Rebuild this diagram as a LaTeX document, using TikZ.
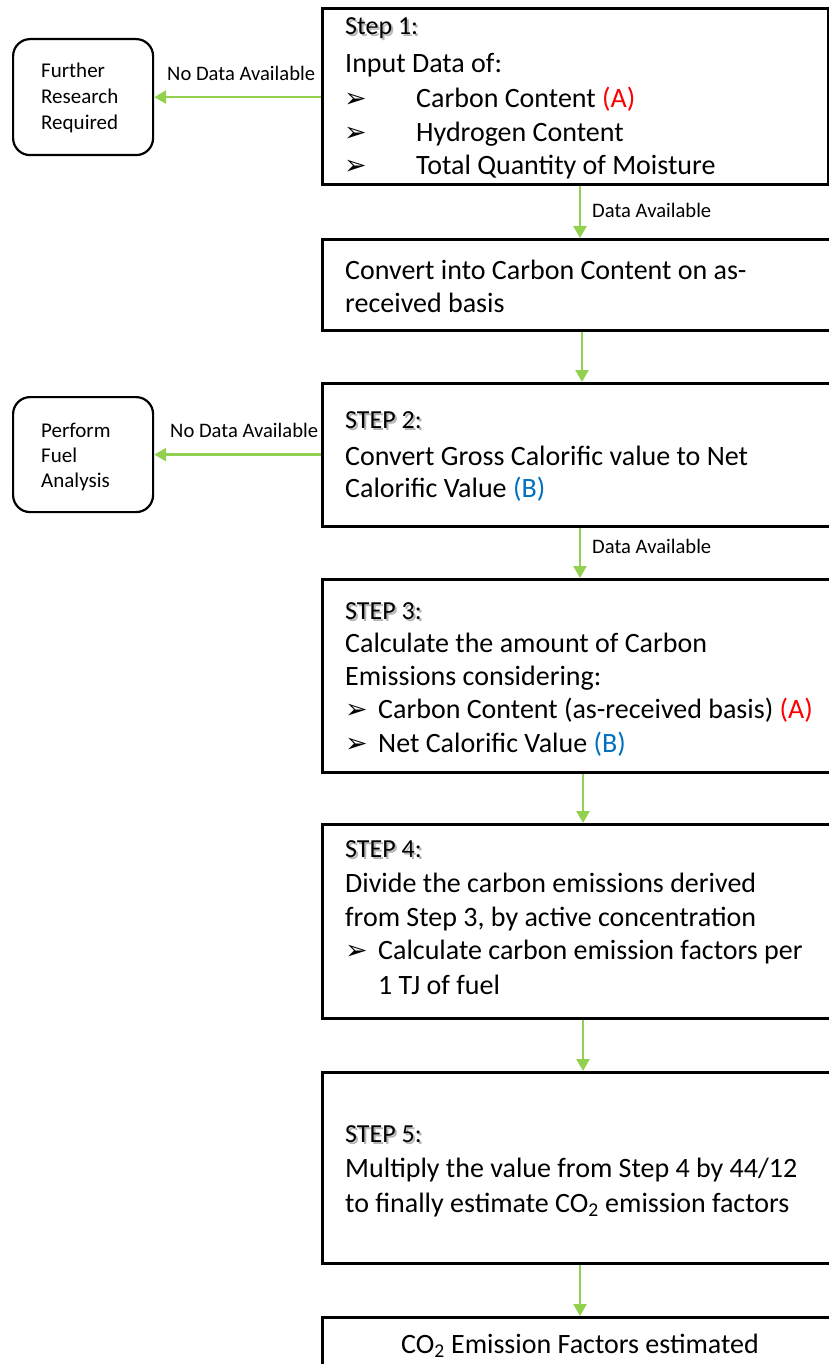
\documentclass[tikz,border=0pt]{standalone}
\usepackage{fontspec}
\setmainfont{Carlito}
\newfontfamily\symfont{DejaVu Sans}
\usetikzlibrary{arrows.meta}
\definecolor{arrowgreen}{HTML}{92D050}
\definecolor{refred}{HTML}{FF0000}
\definecolor{refblue}{HTML}{0070C0}
\definecolor{shadowgray}{HTML}{B4B4B4}
\begin{document}
\begin{tikzpicture}[x=1pt,y=-1pt,
  stepbox/.style={draw=black, line width=2.6pt, rectangle, inner sep=0pt, anchor=north west},
  sidebox/.style={draw=black, line width=2.2pt, rectangle, rounded corners=17pt, inner sep=0pt,
    anchor=north west, minimum width=140pt},
  txt/.style={anchor=base west, inner sep=0pt, font=\fontsize{28}{33}\selectfont},
  ctxt/.style={anchor=base, inner sep=0pt, font=\fontsize{28}{33}\selectfont},
  bul/.style={anchor=base west, inner sep=0pt, font=\symfont\fontsize{27}{30}\selectfont},
  steptxt/.style={anchor=base west, inner sep=0pt, font=\fontsize{26}{30}\selectfont},
  stepshadow/.style={anchor=base west, inner sep=0pt, font=\fontsize{26}{30}\selectfont, text=shadowgray},
  sidetxt/.style={anchor=base west, inner sep=0pt, font=\fontsize{21}{25}\selectfont},
  lbl/.style={anchor=base west, inner sep=0pt, font=\fontsize{20.6}{24}\selectfont},
  flow/.style={draw=arrowgreen, line width=2.6pt, -{Triangle[width=13pt,length=12pt]}}
]
\useasboundingbox (0,0) rectangle (829,1364);
\clip (0,0) rectangle (829,1364);

% main boxes
\node[stepbox, minimum width=506pt, minimum height=176pt] (b1) at (321,7) {};
\node[stepbox, minimum width=530pt, minimum height=91pt] (b2) at (321,238) {};
\node[stepbox, minimum width=530pt, minimum height=143pt] (b3) at (321,382) {};
\node[stepbox, minimum width=530pt, minimum height=193pt] (b4) at (321,578) {};
\node[stepbox, minimum width=530pt, minimum height=194pt] (b5) at (321,823) {};
\node[stepbox, minimum width=530pt, minimum height=191pt] (b6) at (321,1071) {};
\node[stepbox, minimum width=530pt, minimum height=80pt] (b7) at (321,1316) {};

% side boxes
\node[sidebox, minimum height=116pt] (fr) at (12,38) {};
\node[sidebox, minimum height=115pt] (pf) at (12,396) {};

% side box texts
\node[sidetxt] (fr1) at (41,78) {Further};
\node[sidetxt] (fr2) at (41,104) {Research};
\node[sidetxt] (fr3) at (41,129.5) {Required};
\node[sidetxt] (pf1) at (41,437) {Perform};
\node[sidetxt] (pf2) at (41,462) {Fuel};
\node[sidetxt] (pf3) at (41,487) {Analysis};

% box 1
\node[stepshadow] (s1s) at (347,37) {Step 1:};
\node[steptxt] (s1) at (345,35) {Step 1:};
\node[txt] (t1a) at (345,73) {Input Data of:};
\node[bul] (u1a) at (344,108) {➢};
\node[txt] (t1b) at (416,108) {Carbon Content {\color{refred}(A)}};
\node[bul] (u1b) at (344,141.5) {➢};
\node[txt] (t1c) at (416,141.5) {Hydrogen Content};
\node[bul] (u1c) at (344,175) {➢};
\node[txt] (t1d) at (416,175) {Total Quantity of Moisture};

% box 2
\node[txt] (t2a) at (345,279) {Convert into Carbon Content on as-};
\node[txt] (t2b) at (345,312) {received basis};

% box 3
\node[stepshadow] (s2s) at (347,430) {STEP 2:};
\node[steptxt] (s2) at (345,428) {STEP 2:};
\node[txt] (t3a) at (345,465) {Convert Gross Calorific value to Net};
\node[txt] (t3b) at (345,497) {Calorific Value {\color{refblue}(B)}};

% box 4
\node[stepshadow] (s3s) at (347,621) {STEP 3:};
\node[steptxt] (s3) at (345,619) {STEP 3:};
\node[txt] (t4a) at (345,652) {Calculate the amount of Carbon};
\node[txt] (t4b) at (345,685) {Emissions considering:};
\node[bul] (u4a) at (345,718) {➢};
\node[txt] (t4c) at (378,718) {Carbon Content (as-received basis) {\color{refred}(A)}};
\node[bul] (u4b) at (345,752) {➢};
\node[txt] (t4d) at (378,752) {Net Calorific Value {\color{refblue}(B)}};

% box 5
\node[stepshadow] (s4s) at (347,859) {STEP 4:};
\node[steptxt] (s4) at (345,857) {STEP 4:};
\node[txt] (t5a) at (345,892) {Divide the carbon emissions derived};
\node[txt] (t5b) at (345,926) {from Step 3, by active concentration};
\node[bul] (u5a) at (345,959) {➢};
\node[txt] (t5c) at (378,959) {Calculate carbon emission factors per};
\node[txt] (t5d) at (378,994) {1 TJ of fuel};

% box 6
\node[stepshadow] (s5s) at (347,1144) {STEP 5:};
\node[steptxt] (s5) at (345,1142) {STEP 5:};
\node[txt] (t6a) at (345,1177) {Multiply the value from Step 4 by 44/12};
\node[txt] (t6b) at (345,1212) {to finally estimate CO\textsubscript{2} emission factors};

% box 7
\node[ctxt] (t7) at (580,1353) {CO\textsubscript{2} Emission Factors estimated};

% arrow columns
\coordinate (c1) at (580,0);
\coordinate (c2) at (582,0);
\coordinate (c3) at (583,0);

\draw[flow] (b1.south -| c1) -- (b2.north -| c1);
\draw[flow] (b2.south -| c2) -- (b3.north -| c2);
\draw[flow] (b3.south -| c1) -- (b4.north -| c1);
\draw[flow] (b4.south -| c3) -- (b5.north -| c3);
\draw[flow] (b5.south -| c3) -- (b6.north -| c3);
\draw[flow] (b6.south -| c1) -- (b7.north -| c1);
\draw[flow] (fr.east -| b1.west) -- (fr.east);
\draw[flow] (pf.east -| b3.west) -- (pf.east);

% arrow labels
\node[lbl] (l1) at (592,218) {Data Available};
\node[lbl] (l2) at (592,553) {Data Available};
\node[lbl] (l3) at (167,81) {No Data Available};
\node[lbl] (l4) at (170,437) {No Data Available};
\end{tikzpicture}
\end{document}
